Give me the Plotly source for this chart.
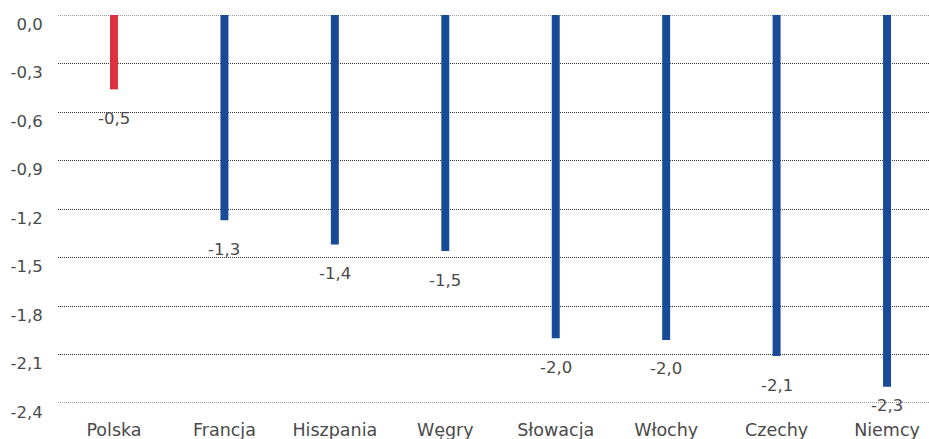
import plotly.graph_objects as go

countries = ["Polska", "Francja", "Hiszpania", "Węgry", "Słowacja", "Włochy", "Czechy", "Niemcy"]
values = [-0.46, -1.27, -1.42, -1.46, -2.00, -2.01, -2.11, -2.30]
highlight = "Polska"
y_ticks = [0.0, -0.3, -0.6, -0.9, -1.2, -1.5, -1.8, -2.1, -2.4]
y_tick_labels = ["0,0", "-0,3", "-0,6", "-0,9", "-1,2", "-1,5", "-1,8", "-2,1", "-2,4"]

RED = "#e0303f"
BLUE = "#174a97"
TEXT = "#4a4a4a"
GRID = "#333333"
FONT = "DejaVu Sans"

Y_MIN = -2.4
PLOT_H = 439 - 15 - 36
PX_PER_UNIT = PLOT_H / abs(Y_MIN)

colors = [RED if c == highlight else BLUE for c in countries]
labels = [f"{v:.1f}".replace(".", ",") for v in values]

fig = go.Figure(
    go.Bar(
        x=list(range(len(countries))),
        y=values,
        width=0.072,
        marker=dict(color=colors, line=dict(width=0)),
        hoverinfo="skip",
    )
)

# dotted lines on the two ends of the value axis
for yv in (y_ticks[0], y_ticks[-1]):
    fig.add_shape(
        type="line", xref="paper", x0=0, x1=1, yref="y", y0=yv, y1=yv,
        line=dict(color=GRID, width=1, dash="1px,1px"), layer="below",
    )

# value labels sit under each bar, pulled up near the bottom of the axis
for i, (v, t) in enumerate(zip(values, labels)):
    room = (v - Y_MIN) * PX_PER_UNIT
    fig.add_annotation(
        x=i, y=v, text=t, showarrow=False, yshift=-min(29, room + 3),
        font=dict(family=FONT, size=16.5, color=TEXT),
    )

fig.update_layout(
    width=929, height=439,
    margin=dict(l=58, r=0, t=15, b=36),
    paper_bgcolor="white", plot_bgcolor="white",
    showlegend=False,
    font=dict(family=FONT, size=16.5, color=TEXT),
)

fig.update_xaxes(
    tickmode="array",
    tickvals=list(range(len(countries))),
    ticktext=countries,
    range=[-0.507, 7.38],
    showgrid=False, zeroline=False, showline=False,
    ticks="outside", ticklen=11, tickcolor="rgba(0,0,0,0)",
    tickfont=dict(family=FONT, size=17.5, color=TEXT),
)

fig.update_yaxes(
    range=[Y_MIN, 0],
    tickmode="array",
    tickvals=y_ticks,
    ticktext=y_tick_labels,
    showgrid=True, gridcolor=GRID, gridwidth=1, griddash="1px,1px",
    zeroline=False, showline=False,
    ticks="outside", ticklen=11, tickcolor="rgba(0,0,0,0)",
    ticklabelshift=9,
    tickfont=dict(family=FONT, size=16.5, color=TEXT),
)

fig.write_html("out.html")
